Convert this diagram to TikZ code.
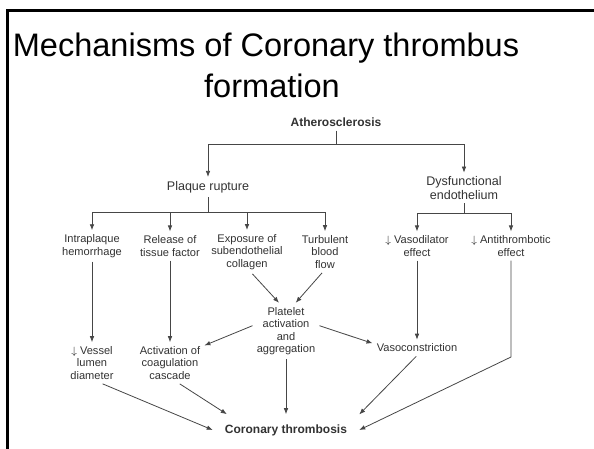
\documentclass[tikz,border=0pt]{standalone}
\usepackage{amsmath}
\usepackage{amssymb}
\usepackage{xcolor}
\usepackage{fontspec}
\setmainfont{Liberation Sans}
\usepackage{tikz}
\usetikzlibrary{arrows.meta}

\definecolor{txtgray}{RGB}{50,50,50}
\definecolor{lngray}{RGB}{70,70,70}

\begin{document}
\begin{tikzpicture}[x=0.75pt,y=0.75pt,yscale=-1,xscale=1,
  box/.style={text=txtgray,font=\fontsize{8.3}{9.4}\selectfont,align=center,inner sep=3pt},
  head/.style={box,font=\fontsize{9.4}{9.8}\selectfont},
  key/.style={text=txtgray,font=\fontsize{9}{10}\selectfont\bfseries,inner sep=3pt},
  conn/.style={draw=lngray,line width=0.6pt},
  arr/.style={conn,-{Latex[length=4.5pt,width=3.5pt]}}
]
\useasboundingbox (0,0) rectangle (594,449);

%Frame
\draw [line width=1.9pt,line join=miter] (7.5,449) -- (7.5,10.5) -- (594,10.5) ;

%Title
\node [anchor=base,font=\fontsize{24.4}{29}\selectfont] (title1) at (266,57) {Mechanisms of Coronary thrombus};
\node [anchor=base,font=\fontsize{24.4}{29}\selectfont] (title2) at (272,98) {formation};

%Nodes
\node [key] (ath) at (336,122) {Atherosclerosis};
\node [head] (plq) at (208,187) {Plaque rupture};
\node [head] (dys) at (464,188) {Dysfunctional\\endothelium};
\node [box] (ihm) at (92,246) {Intraplaque\\hemorrhage};
\node [box] (rtf) at (170,246) {Release of\\tissue factor};
\node [box] (exp) at (247,252) {Exposure of\\subendothelial\\collagen};
\node [box] (tbf) at (325,252) {Turbulent\\blood\\flow};
\node [box] (vdl) at (417,246) {$\downarrow$ Vasodilator\\effect};
\node [box] (atb) at (511,246) {$\downarrow$ Antithrombotic\\effect};
\node [box] (plt) at (286,331) {Platelet\\activation\\and\\aggregation};
\node [box] (vsl) at (92,363) {$\downarrow$ Vessel\\lumen\\diameter};
\node [box] (act) at (170,363) {Activation of\\coagulation\\cascade};
\node [box] (vsc) at (417,348) {Vasoconstriction};
\node [key,inner xsep=9pt,inner ysep=7.5pt] (cor) at (286,430) {Coronary thrombosis};

%Junctions
\coordinate (j1) at (336,144);
\coordinate (j2) at (208,212);
\coordinate (j3) at (464,213);
\coordinate (atbc) at (511,357);

%Tree lines
\draw [conn] (ath.south) -- (j1) ;
\draw [arr] (j1) -| (plq.north) ;
\draw [arr] (j1) -| (dys.north) ;
\draw [conn] (plq.south) -- (j2) ;
\draw [arr] (j2) -| (ihm.north) ;
\draw [arr] (j2) -| (rtf.north) ;
\draw [arr] (j2) -| (exp.north) ;
\draw [arr] (j2) -| (tbf.north) ;
\draw [conn] (dys.south) -- (j3) ;
\draw [arr] (j3) -| (vdl.north) ;
\draw [arr] (j3) -| (atb.north) ;

%Straight down
\draw [arr] (ihm) -- (vsl) ;
\draw [arr] (rtf) -- (act) ;
\draw [arr] (vdl) -- (vsc) ;

%Platelets
\draw [arr] (exp.-76) -- (plt.104) ;
\draw [arr] (tbf.-98) -- (plt.71) ;
\draw [arr] (plt.171) -- (act.27) ;
\draw [arr] (plt.9) -- (vsc.174) ;

%Into thrombosis
\draw [arr] (plt) -- (cor) ;
\draw [arr] (vsl.-63) -- (cor.west) ;
\draw [arr] (act.-65) -- (cor.165) ;
\draw [arr] (vsc.-95) -- (cor.12) ;
\draw [arr] (atb.south) -- (atbc) -- (cor.east) ;
\end{tikzpicture}
\end{document}
